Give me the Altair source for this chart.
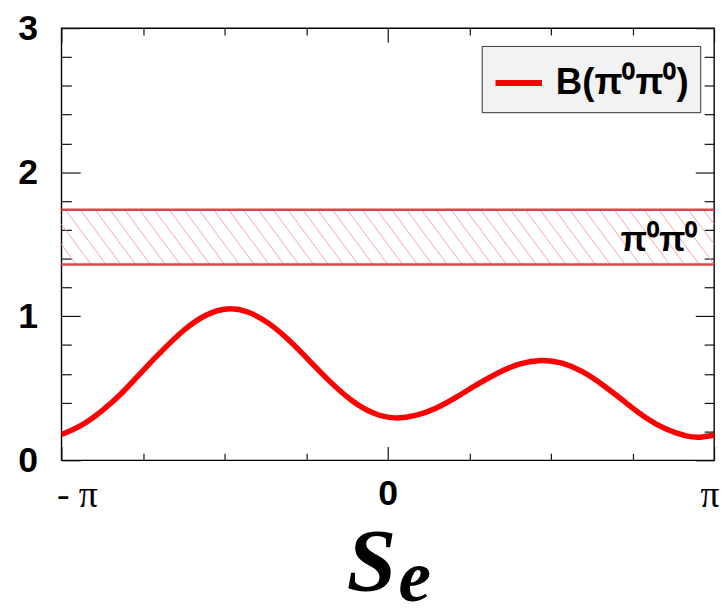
import math
import altair as alt
import pandas as pd

PI = math.pi

# ---- data ----
curve_x_pi = [-1.0, -0.942, -0.878, -0.814, -0.750, -0.686, -0.621, -0.557, -0.493,
              -0.429, -0.365, -0.300, -0.236, -0.172, -0.108, -0.044, 0.021, 0.085,
              0.149, 0.213, 0.277, 0.341, 0.406, 0.470, 0.534, 0.598, 0.662, 0.727,
              0.791, 0.855, 0.919, 0.957, 1.0]
curve_y = [0.179, 0.232, 0.336, 0.463, 0.625, 0.774, 0.917, 1.016, 1.062,
           1.039, 0.958, 0.832, 0.682, 0.532, 0.405, 0.320, 0.285, 0.306,
           0.359, 0.440, 0.532, 0.613, 0.675, 0.700, 0.682, 0.620, 0.520, 0.405,
           0.290, 0.209, 0.163, 0.156, 0.175]
series_name = "B(π⁰π⁰)"

band_low = 1.36
band_high = 1.74
band_label = "π⁰π⁰"
band_label_x_pi = 0.831
band_label_y = 1.456

y_major = [0, 1, 2, 3]
y_minor = [0.2, 0.4, 0.6, 0.8, 1.2, 1.4, 1.6, 1.8, 2.2, 2.4, 2.6, 2.8]
x_major_pi = [-1, 0, 1]
x_minor_pi = [-0.75, -0.5, -0.25, 0.25, 0.5, 0.75]
x_tick_text = ["- π", "0", "π"]
x_title = "S"
x_title_sub = "e"

# ---- styles ----
W, H = 660, 437
RED = "#ff0000"
EDGE = "#d84848"
HATCH = "#f6a5a5"
TICK = "#111111"
hatch_spacing = 0.1428
hatch_slant = 0.39
n_hatch = int((2 * PI + hatch_slant) / hatch_spacing) + 2

x_major = [v * PI for v in x_major_pi]
x_minor = [v * PI for v in x_minor_pi]

xs = alt.Scale(domain=[-PI, PI], nice=False, zero=False)
ys = alt.Scale(domain=[0, 3], nice=False, zero=False)


def tick_axis(orient, offset, values, size):
    return alt.Axis(orient=orient, offset=offset, values=values, tickSize=size,
                    labels=False, domain=False, grid=False, title=None,
                    ticks=True, tickColor=TICK, tickWidth=1.2)


curve_df = pd.DataFrame({"x": [v * PI for v in curve_x_pi], "y": curve_y,
                         "series": [series_name] * len(curve_y)})

x_label_expr = ("datum.value < -1 ? '%s' : (datum.value > 1 ? '%s' : '%s')"
                % (x_tick_text[0], x_tick_text[2], x_tick_text[1]))

x_label_axis = alt.Axis(
    orient="bottom", values=x_major, ticks=False, tickSize=0, domain=False, grid=False,
    labelExpr=x_label_expr, labelPadding=17, labelFlush=True, labelFlushOffset=5,
    labelFontSize=alt.condition("datum.value == 0", alt.value(36), alt.value(38)),
    labelFont=alt.condition("datum.value == 0", alt.value("Liberation Sans"),
                            alt.value("Liberation Serif")),
    labelFontWeight=alt.condition("datum.value == 0", alt.value("bold"),
                                  alt.value("normal")),
    labelColor="black",
    title=x_title, titleFont="Liberation Serif", titleFontStyle="italic",
    titleFontWeight="bold", titleFontSize=90, titleColor="black",
    titleX=313, titleY=131, titleAlign="center", titleBaseline="alphabetic",
    titleAngle=0,
)
y_label_axis = alt.Axis(
    orient="left", values=y_major, ticks=False, tickSize=0, domain=False, grid=False,
    labelPadding=24, format="d", labelFont="Liberation Sans", labelFontSize=36,
    labelFontWeight="bold", labelColor="black", title=None,
)

curve = alt.Chart(curve_df).mark_line(
    interpolate="basis", strokeWidth=5.5, clip=True
).encode(
    x=alt.X("x:Q", scale=xs, axis=x_label_axis),
    y=alt.Y("y:Q", scale=ys, axis=y_label_axis),
    color=alt.Color("series:N",
                    scale=alt.Scale(domain=[series_name], range=[RED]),
                    legend=alt.Legend(
                        orient="none", legendX=425, legendY=18, title=None,
                        fillColor="#f2f2f2", strokeColor="#333333", padding=11,
                        symbolType="stroke", symbolSize=2209, symbolStrokeWidth=6,
                        labelFont="Liberation Sans", labelFontSize=37,
                        labelFontWeight="bold", labelColor="black",
                        labelOffset=11, labelLimit=400)),
)

hatch = alt.Chart(alt.sequence(0, n_hatch, 1, as_="i")).transform_calculate(
    hx=f"{-PI - hatch_slant} + datum.i * {hatch_spacing}",
    hx2=f"datum.hx + {hatch_slant}",
    hy=f"{band_high}",
    hy2=f"{band_low}",
).mark_rule(color=HATCH, strokeWidth=1, clip=True).encode(
    x=alt.X("hx:Q", scale=xs, axis=tick_axis("top", -H, x_major, 14)),
    x2="hx2:Q",
    y=alt.Y("hy:Q", scale=ys, axis=tick_axis("right", -W, y_major, 19)),
    y2="hy2:Q",
)

top_df = pd.DataFrame({"x0": [-PI], "x1": [PI], "y": [band_high]})
bot_df = pd.DataFrame({"x0": [-PI], "x1": [PI], "y": [band_low]})

edge_top = alt.Chart(top_df).mark_rule(color=EDGE, strokeWidth=2.5).encode(
    x=alt.X("x0:Q", scale=xs, axis=tick_axis("top", -H, x_minor, 7)),
    x2="x1:Q",
    y=alt.Y("y:Q", scale=ys, axis=tick_axis("right", -W, y_minor, 10)),
)
edge_bot = alt.Chart(bot_df).mark_rule(color=EDGE, strokeWidth=2.5).encode(
    x=alt.X("x0:Q", scale=xs, axis=tick_axis("bottom", -H, x_minor, 7)),
    x2="x1:Q",
    y=alt.Y("y:Q", scale=ys, axis=tick_axis("left", -W, y_minor, 10)),
)

lab_df = pd.DataFrame({"x": [band_label_x_pi * PI], "y": [band_label_y],
                       "t": [band_label]})
band_text = alt.Chart(lab_df).mark_text(
    font="Liberation Sans", fontSize=35, fontWeight="bold", color="black",
    align="center", baseline="alphabetic"
).encode(
    x=alt.X("x:Q", scale=xs, axis=tick_axis("bottom", -H, x_major, 14)),
    y=alt.Y("y:Q", scale=ys, axis=tick_axis("left", -W, y_major, 19)),
    text="t:N",
)

sub_df = pd.DataFrame({"t": [x_title_sub]})
sub_text = alt.Chart(sub_df).mark_text(
    font="Liberation Serif", fontSize=74, fontStyle="italic", fontWeight="bold",
    color="black", align="left", baseline="alphabetic"
).encode(x=alt.value(341), y=alt.value(579), text="t:N")

chart = alt.layer(hatch, edge_top, edge_bot, curve, band_text, sub_text).resolve_axis(
    x="independent", y="independent"
).properties(
    width=W, height=H,
    autosize=alt.AutoSizeParams(type="none"),
    padding={"left": 54, "top": 17, "right": 6, "bottom": 147},
).configure_view(
    stroke="black", strokeWidth=1.4
).configure_axis(grid=False)

chart.save("out.html", embed_options={"renderer": "svg", "actions": False})
